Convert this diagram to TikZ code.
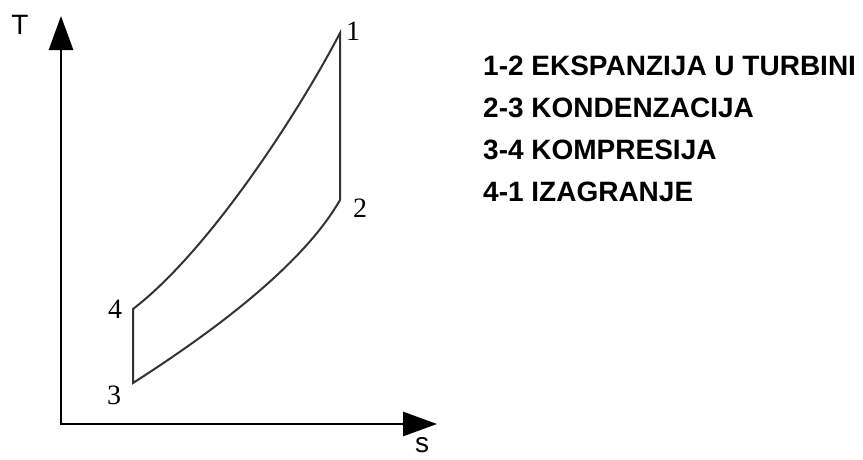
\documentclass[tikz,border=0pt]{standalone}
\usepackage{fontspec}
\setmainfont{Liberation Serif}
\newfontfamily\arialfont{Liberation Sans}
\usetikzlibrary{arrows.meta}
\tikzset{
  axisline/.style={line width=2.8pt, black},
  cycleline/.style={line width=2pt, draw=black!80},
  ptlabel/.style={inner sep=0pt, font=\fontsize{28}{30}\selectfont},
  axlabel/.style={inner sep=0pt, font=\arialfont\fontsize{28}{30}\selectfont},
  legend/.style={inner sep=0pt, anchor=base west, font=\arialfont\bfseries\fontsize{28}{30}\selectfont}
}
\begin{document}
\begin{tikzpicture}[x=1pt,y=-1pt]
\useasboundingbox (0,0) rectangle (863,459);
\coordinate (O) at (61,424);
\coordinate (ytip) at (61,16);
\coordinate (xtip) at (437,424);
\coordinate (p1) at (340,33);
\coordinate (p2) at (340,200);
\coordinate (p3) at (133,383);
\coordinate (p4) at (133,309);
% axes
\draw[axisline, {Triangle[length=34pt,width=24pt]}-{Triangle[length=34pt,width=24pt]}] (ytip) -- (O) -- (xtip);
% cycle
\draw[cycleline, line join=miter] (p4) .. controls (210,250) and (300,110) .. (p1) -- (p2)
  .. controls (300,270) and (200,340) .. (p3) -- cycle;
% labels
\node[axlabel] (T) at (20,25) {T};
\node[axlabel] (S) at (422,445) {s};
\node[ptlabel] (l1) at (353,31) {1};
\node[ptlabel] (l2) at (360,208) {2};
\node[ptlabel] (l3) at (114,395) {3};
\node[ptlabel] (l4) at (115,309) {4};
\node[legend] (r1) at (483,75) {1-2 EKSPANZIJA U TURBINI};
\node[legend] (r2) at (483,117) {2-3 KONDENZACIJA};
\node[legend] (r3) at (483,159) {3-4 KOMPRESIJA};
\node[legend] (r4) at (483,201) {4-1 IZAGRANJE};
\end{tikzpicture}
\end{document}
